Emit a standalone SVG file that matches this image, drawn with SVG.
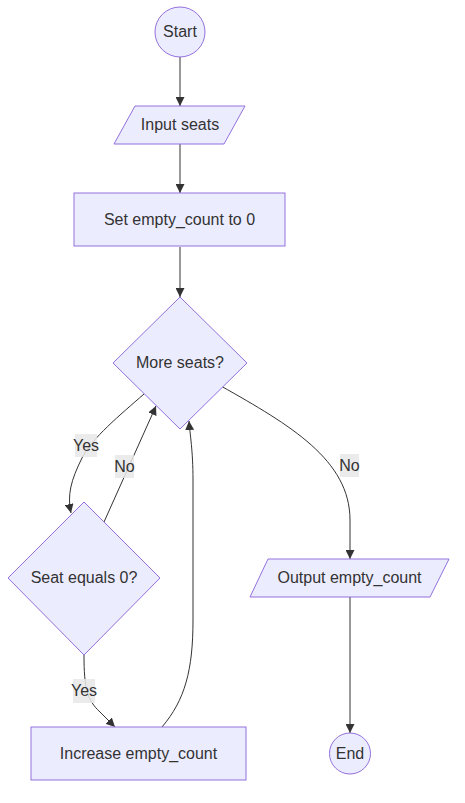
<svg xmlns="http://www.w3.org/2000/svg" width="465" height="803" viewBox="0 0 465 803">
<style>
.node{fill:#ECECFF;stroke:#9370DB;stroke-width:1}
.t{font-family:"Liberation Sans",Arial,sans-serif;font-size:16px;fill:#333;text-anchor:middle;dominant-baseline:central}
.e{fill:none;stroke:#333;stroke-width:1}
.lb{fill:#e8e8e8;fill-opacity:0.85}
</style>
<defs>
<marker id="arr" viewBox="0 0 10 10" refX="10" refY="5" markerWidth="9" markerHeight="9" markerUnits="userSpaceOnUse" orient="auto">
<path d="M0,0 L10,5 L0,10 z" fill="#333"/>
</marker>
</defs>
<rect width="465" height="803" fill="#fff"/>
<g id="edges">
<path class="e" marker-end="url(#arr)" d="M180,57 L180,106"/>
<path class="e" marker-end="url(#arr)" d="M180,144 L180,193"/>
<path class="e" marker-end="url(#arr)" d="M180,247 L180,297"/>
<path class="e" marker-end="url(#arr)" d="M144,394 C120,415 92,438 82,458 C71,480 67,495 71,513"/>
<path class="e" marker-end="url(#arr)" d="M104,522 L156,406"/>
<path class="e" marker-end="url(#arr)" d="M162,727 C185,700 193,670 193,620 L193,480 C193,450 190,435 189,421"/>
<path class="e" marker-end="url(#arr)" d="M221,386 C290,425 350,460 350,520 L350,559"/>
<path class="e" marker-end="url(#arr)" d="M84,655 C84,688 87,700 100,712 L115,727"/>
<path class="e" marker-end="url(#arr)" d="M350,597 L350,733"/>
</g>
<g id="labels">
<rect class="lb" x="75" y="434" width="22" height="23"/><text class="t" x="86" y="445.5">Yes</text>
<rect class="lb" x="115" y="455" width="19" height="23"/><text class="t" x="124.5" y="466.5">No</text>
<rect class="lb" x="340" y="454" width="19" height="23"/><text class="t" x="349.5" y="465.5">No</text>
<rect class="lb" x="73" y="679" width="22" height="24"/><text class="t" x="84" y="690.5">Yes</text>
</g>
<g id="start"><circle class="node" cx="180" cy="32" r="25"/><text class="t" x="180" y="31.5">Start</text></g>
<g id="input"><polygon class="node" points="135,106 245,106 224,144 114,144"/><text class="t" x="180" y="124.5">Input seats</text></g>
<g id="set"><rect class="node" x="74" y="193" width="211" height="53"/><text class="t" x="179.5" y="219">Set empty_count to 0</text></g>
<g id="more"><polygon class="node" points="180,297 247,363 180,429 113,363"/><text class="t" x="180" y="362.5">More seats?</text></g>
<g id="seat"><polygon class="node" points="84,502 160,578 84,655 8,578"/><text class="t" x="84" y="577.5">Seat equals 0?</text></g>
<g id="inc"><rect class="node" x="31" y="727" width="215" height="53"/><text class="t" x="138.5" y="753">Increase empty_count</text></g>
<g id="output"><polygon class="node" points="268,559 449,559 430,597 250,597"/><text class="t" x="349.5" y="577.5">Output empty_count</text></g>
<g id="end"><circle class="node" cx="350" cy="753.5" r="20.5"/><text class="t" x="350" y="753">End</text></g>
</svg>
